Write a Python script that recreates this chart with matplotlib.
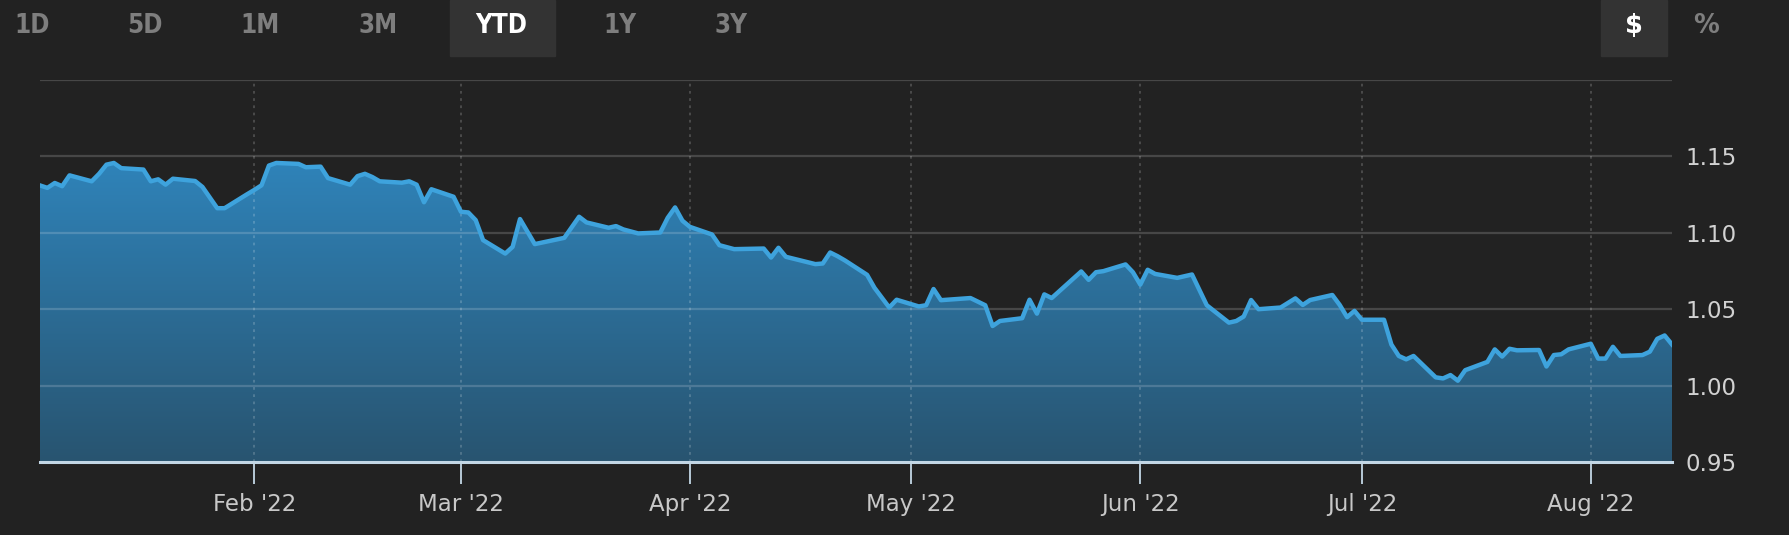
import numpy as np
import pandas as pd
import matplotlib
matplotlib.use("Agg")
import matplotlib.pyplot as plt
import matplotlib.dates as mdates
from matplotlib.colors import LinearSegmentedColormap
from matplotlib.patches import Rectangle

# --- data (EUR/USD, YTD 2022)
dates = [
    "2022-01-03", "2022-01-04", "2022-01-05", "2022-01-06", "2022-01-07",
    "2022-01-10", "2022-01-11", "2022-01-12", "2022-01-13", "2022-01-14",
    "2022-01-17", "2022-01-18", "2022-01-19", "2022-01-20", "2022-01-21",
    "2022-01-24", "2022-01-25", "2022-01-26", "2022-01-27", "2022-01-28",
    "2022-01-31", "2022-02-01", "2022-02-02", "2022-02-03", "2022-02-04",
    "2022-02-07", "2022-02-08", "2022-02-09", "2022-02-10", "2022-02-11",
    "2022-02-14", "2022-02-15", "2022-02-16", "2022-02-17", "2022-02-18",
    "2022-02-21", "2022-02-22", "2022-02-23", "2022-02-24", "2022-02-25",
    "2022-02-28", "2022-03-01", "2022-03-02", "2022-03-03", "2022-03-04",
    "2022-03-07", "2022-03-08", "2022-03-09", "2022-03-11",
    "2022-03-15", "2022-03-17", "2022-03-18",
    "2022-03-21", "2022-03-22", "2022-03-23", "2022-03-25",
    "2022-03-28", "2022-03-29", "2022-03-30", "2022-03-31", "2022-04-01",
    "2022-04-04", "2022-04-05", "2022-04-07",
    "2022-04-11", "2022-04-12", "2022-04-13", "2022-04-14",
    "2022-04-18", "2022-04-19", "2022-04-20", "2022-04-21", "2022-04-22",
    "2022-04-25", "2022-04-26", "2022-04-28", "2022-04-29",
    "2022-05-02", "2022-05-03", "2022-05-04", "2022-05-05",
    "2022-05-09", "2022-05-11", "2022-05-12", "2022-05-13",
    "2022-05-16", "2022-05-17", "2022-05-18", "2022-05-19", "2022-05-20",
    "2022-05-24", "2022-05-25", "2022-05-26", "2022-05-27",
    "2022-05-30", "2022-05-31", "2022-06-01", "2022-06-02", "2022-06-03",
    "2022-06-06", "2022-06-08", "2022-06-10",
    "2022-06-13", "2022-06-14", "2022-06-15", "2022-06-16", "2022-06-17",
    "2022-06-20", "2022-06-22", "2022-06-23", "2022-06-24",
    "2022-06-27", "2022-06-28", "2022-06-29", "2022-06-30", "2022-07-01",
    "2022-07-04", "2022-07-05", "2022-07-06", "2022-07-07", "2022-07-08",
    "2022-07-11", "2022-07-12", "2022-07-13", "2022-07-14", "2022-07-15",
    "2022-07-18", "2022-07-19", "2022-07-20", "2022-07-21", "2022-07-22",
    "2022-07-25", "2022-07-26", "2022-07-27", "2022-07-28", "2022-07-29",
    "2022-08-01", "2022-08-02", "2022-08-03", "2022-08-04", "2022-08-05",
    "2022-08-08", "2022-08-09", "2022-08-10", "2022-08-11", "2022-08-12",
]
values = [
    1.1310, 1.1294, 1.1326, 1.1305, 1.1376,
    1.1337, 1.1386, 1.1446, 1.1457, 1.1423,
    1.1414, 1.1337, 1.1350, 1.1315, 1.1354,
    1.1339, 1.1300, 1.1230, 1.1161, 1.1161,
    1.1251, 1.1280, 1.1311, 1.1440, 1.1457,
    1.1451, 1.1429, 1.1431, 1.1433, 1.1358,
    1.1315, 1.1371, 1.1386, 1.1365, 1.1337,
    1.1328, 1.1337, 1.1315, 1.1200, 1.1285,
    1.1236, 1.1138, 1.1133, 1.1083, 1.0952,
    1.0864, 1.0908, 1.1090, 1.0926,
    1.0967, 1.1105, 1.1068,
    1.1033, 1.1044, 1.1022, 1.0996,
    1.1002, 1.1098, 1.1166, 1.1079, 1.1039,
    1.0989, 1.0919, 1.0893,
    1.0897, 1.0838, 1.0902, 1.0843,
    1.0795, 1.0799, 1.0871, 1.0847, 1.0819,
    1.0725, 1.0640, 1.0511, 1.0562,
    1.0518, 1.0526, 1.0632, 1.0559,
    1.0573, 1.0526, 1.0390, 1.0423,
    1.0441, 1.0562, 1.0471, 1.0597, 1.0573,
    1.0747, 1.0692, 1.0742, 1.0749,
    1.0793, 1.0742, 1.0661, 1.0758, 1.0731,
    1.0705, 1.0727, 1.0526,
    1.0412, 1.0423, 1.0452, 1.0560, 1.0500,
    1.0511, 1.0571, 1.0528, 1.0560,
    1.0593, 1.0528, 1.0448, 1.0489, 1.0431,
    1.0431, 1.0269, 1.0194, 1.0172, 1.0194,
    1.0054, 1.0047, 1.0069, 1.0032, 1.0101,
    1.0155, 1.0237, 1.0190, 1.0241, 1.0231,
    1.0233, 1.0125, 1.0200, 1.0205, 1.0237,
    1.0274, 1.0177, 1.0177, 1.0254, 1.0194,
    1.0200, 1.0222, 1.0306, 1.0328, 1.0269,
]

y_ticks = [0.95, 1.00, 1.05, 1.10, 1.15, 1.20]
y_labels = ["0.95", "1.00", "1.05", "1.10", "1.15", ""]

range_buttons = ["1D", "5D", "1M", "3M", "YTD", "1Y", "3Y"]
active_range = "YTD"
unit_buttons = ["$", "%"]
active_unit = "$"

# --- style
BG = "#222222"
LINE = "#3ea3dd"
AXIS = "#c3d7e6"
plt.rcParams["font.family"] = ["DejaVu Sans"]

W, H = 1790, 535
fig = plt.figure(figsize=(W / 100, H / 100), dpi=100, facecolor=BG)
ax = fig.add_axes([40 / W, 1 - 462 / H, (1672 - 40) / W, (462 - 80) / H])
ax.set_facecolor(BG)

t = pd.to_datetime(dates)
v = np.array(values)
ymin = 0.95

# gradient area
poly = ax.fill_between(t, v, ymin, facecolor="none", edgecolor="none")
x0, x1 = mdates.date2num(t[0]), mdates.date2num(t[-1])
grad = np.linspace(0, 1, 256).reshape(-1, 1)
cmap = LinearSegmentedColormap.from_list("area", ["#285470", "#2f83b9"])
im = ax.imshow(grad, aspect="auto", cmap=cmap, origin="lower",
               extent=[x0, x1, ymin, v.max()], zorder=1)
im.set_clip_path(poly.get_paths()[0], transform=ax.transData)

ax.plot(t, v, color=LINE, lw=3.2, solid_joinstyle="round", zorder=4)

# axes, grid
ax.set_xlim(t[0], t[-1])
ax.set_ylim(ymin, 1.20)
ax.set_yticks(y_ticks)
ax.set_yticklabels(y_labels)
ax.yaxis.tick_right()
ax.tick_params(axis="y", length=0, pad=10, labelsize=16.5, labelcolor="#d2d2d2")
for yv in y_ticks[1:]:
    ax.axhline(yv, color="white", alpha=0.17, lw=1.6, zorder=3)

ax.xaxis.set_major_locator(mdates.MonthLocator())
ax.xaxis.set_major_formatter(mdates.DateFormatter("%b '%y"))
ax.tick_params(axis="x", length=16, width=1.3, color=AXIS, pad=6,
               labelsize=16.5, labelcolor="#c8c8c8")
ax.grid(axis="x", color="white", alpha=0.2, lw=1.3, linestyle=(0, (1.5, 2.5)), zorder=3)
ax.set_axisbelow(False)

for s in ["top", "left", "right"]:
    ax.spines[s].set_visible(False)
ax.spines["bottom"].set_color(AXIS)
ax.spines["bottom"].set_linewidth(2.2)
ax.spines["bottom"].set_zorder(5)

# --- range selector bar at the top
btn_x = [32, 145, 260, 378, 501, 620, 731]
ty = 1 - 26 / H
for lab, bx in zip(range_buttons, btn_x):
    on = lab == active_range
    if on:
        fig.patches.append(Rectangle((450 / W, 1 - 56 / H), 105 / W, 56 / H,
                                     transform=fig.transFigure, color="#333333", zorder=0))
    fig.text(bx / W, ty, lab, ha="center", va="center", fontsize=18.5,
             fontweight="bold", fontstretch="condensed",
             color="white" if on else "#7e7e7e")

unit_x = [1634, 1706]
for lab, bx in zip(unit_buttons, unit_x):
    on = lab == active_unit
    if on:
        fig.patches.append(Rectangle((1601 / W, 1 - 56 / H), 66 / W, 56 / H,
                                     transform=fig.transFigure, color="#333333", zorder=0))
    fig.text(bx / W, ty, lab, ha="center", va="center", fontsize=18.5,
             fontweight="bold", color="white" if on else "#7e7e7e")

fig.savefig("out.png", dpi=100, facecolor=BG)
